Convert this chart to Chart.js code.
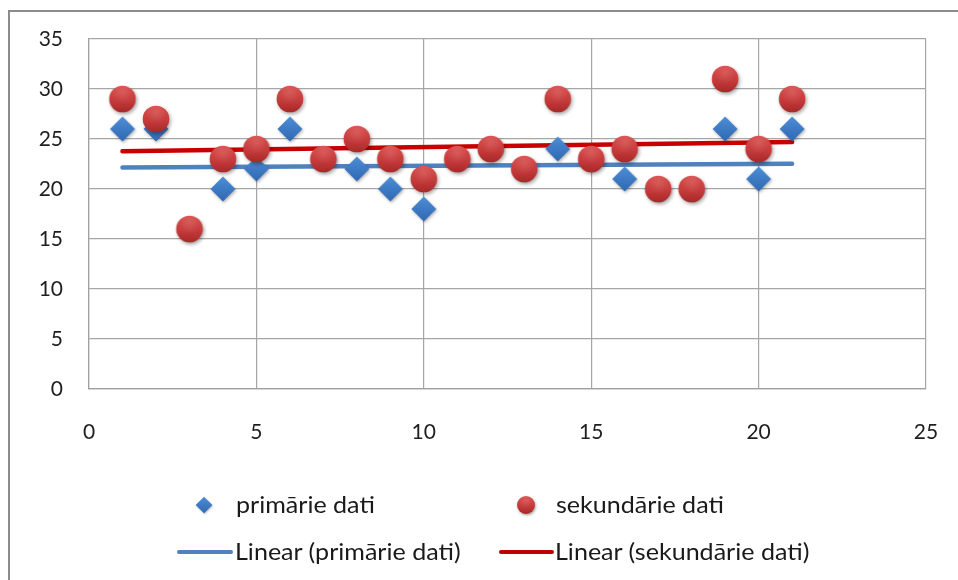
<!DOCTYPE html>
<html>
<head>
<meta charset="utf-8">
<script src="https://cdn.jsdelivr.net/npm/chart.js@4.4.1/dist/chart.umd.min.js"></script>
<style>
  html, body { margin: 0; padding: 0; background: #fff; }
  #wrap { position: relative; width: 958px; height: 580px; overflow: hidden; background: #fff; }
  #frame { position: absolute; left: 8px; top: 10px; width: 1100px; height: 800px;
           border: 2px solid #8c8c8c; box-sizing: border-box; }
  #chart { position: absolute; left: 0; top: 0; }
  .lg { position: absolute; font-family: Lato, "Open Sans", sans-serif; font-size: 23px;
        color: #1a1a1a; line-height: 28px; white-space: nowrap;
        transform: scaleX(1.09); transform-origin: 0 50%; }
  .lgline { position: absolute; height: 4px; border-radius: 2px; }
  .lgmark { position: absolute; }
</style>
</head>
<body>
<div id="wrap">
  <div id="frame"></div>
  <canvas id="chart" width="958" height="580"></canvas>

  <canvas class="lgmark" id="lgDiamond" width="24" height="24" style="left:192px;top:493px"></canvas>
  <div class="lg" style="left:236px;top:490px">primārie dati</div>
  <canvas class="lgmark" id="lgCircle" width="26" height="26" style="left:513px;top:492px"></canvas>
  <div class="lg" style="left:556px;top:490px">sekundārie dati</div>

  <div class="lgline" style="left:177px;top:550px;width:56px;background:#4f81bd"></div>
  <div class="lg" style="left:235px;top:537px">Linear (primārie dati)</div>
  <div class="lgline" style="left:499px;top:550px;width:55px;background:#c00000"></div>
  <div class="lg" style="left:555px;top:537px">Linear (sekundārie dati)</div>
</div>

<script>
// Day index and the two measured series
const days = [1, 2, 3, 4, 5, 6, 7, 8, 9, 10, 11, 12, 13, 14, 15, 16, 17, 18, 19, 20, 21];
const primaryValues = [26, 26, 16, 20, 22, 26, 23, 22, 20, 18, 23, 24, 22, 24, 23, 21, 20, 20, 26, 21, 26];
const secondaryValues = [29, 27, 16, 23, 24, 29, 23, 25, 23, 21, 23, 24, 22, 29, 23, 24, 20, 20, 31, 24, 29];

const primaryLabel = 'primārie dati';
const secondaryLabel = 'sekundārie dati';
const primaryTrendLabel = 'Linear (primārie dati)';
const secondaryTrendLabel = 'Linear (sekundārie dati)';

const xTicks = [0, 5, 10, 15, 20, 25];
const yTicks = [0, 5, 10, 15, 20, 25, 30, 35];

// Least-squares fit, returned as its two end points over the day range
function linearFit(xs, ys) {
  const n = xs.length;
  const mx = xs.reduce((a, b) => a + b, 0) / n;
  const my = ys.reduce((a, b) => a + b, 0) / n;
  let sxy = 0, sxx = 0;
  for (let i = 0; i < n; i++) { sxy += (xs[i] - mx) * (ys[i] - my); sxx += (xs[i] - mx) ** 2; }
  const slope = sxy / sxx;
  const icpt = my - slope * mx;
  const x0 = Math.min(...xs), x1 = Math.max(...xs);
  return [{ x: x0, y: icpt + slope * x0 }, { x: x1, y: icpt + slope * x1 }];
}

// Shaded marker sprites
function circleSprite(r, size) {
  const c = document.createElement('canvas');
  c.width = size; c.height = size;
  const g = c.getContext('2d');
  const m = size / 2;
  g.save();
  g.shadowColor = 'rgba(0,0,0,0.35)'; g.shadowBlur = r * 0.3; g.shadowOffsetX = r * 0.1; g.shadowOffsetY = r * 0.15;
  g.beginPath(); g.arc(m, m, r, 0, Math.PI * 2);
  const grad = g.createLinearGradient(0, m - r, 0, m + r);
  grad.addColorStop(0, '#d84f4d'); grad.addColorStop(0.55, '#c63b3b'); grad.addColorStop(1, '#a82828');
  g.fillStyle = grad; g.fill();
  g.restore();
  const hl = g.createRadialGradient(m, m - r * 0.45, 0, m, m - r * 0.45, r * 0.8);
  hl.addColorStop(0, 'rgba(255,255,255,0.12)'); hl.addColorStop(1, 'rgba(255,255,255,0)');
  g.beginPath(); g.arc(m, m, r, 0, Math.PI * 2); g.fillStyle = hl; g.fill();
  return c;
}
function diamondSprite(r, size) {
  const c = document.createElement('canvas');
  c.width = size; c.height = size;
  const g = c.getContext('2d');
  const m = size / 2;
  g.save();
  g.shadowColor = 'rgba(0,0,0,0.3)'; g.shadowBlur = r * 0.25; g.shadowOffsetX = r * 0.08; g.shadowOffsetY = r * 0.12;
  g.beginPath();
  g.moveTo(m, m - r); g.lineTo(m + r, m); g.lineTo(m, m + r); g.lineTo(m - r, m); g.closePath();
  const grad = g.createLinearGradient(0, m - r, 0, m + r);
  grad.addColorStop(0, '#4d8ed8'); grad.addColorStop(1, '#2f68b0');
  g.fillStyle = grad; g.fill();
  g.restore();
  return c;
}

// Legend markers
(function () {
  const d = diamondSprite(8.3, 24);
  document.getElementById('lgDiamond').getContext('2d').drawImage(d, 0, 0);
  const c = circleSprite(9, 26);
  document.getElementById('lgCircle').getContext('2d').drawImage(c, 0, 0);
})();

const primaryPts = days.map((d, i) => ({ x: d, y: primaryValues[i] }));
const secondaryPts = days.map((d, i) => ({ x: d, y: secondaryValues[i] }));

const tickFont = { family: 'Lato', size: 21 };

new Chart(document.getElementById('chart'), {
  type: 'scatter',
  data: {
    datasets: [
      { label: secondaryLabel, data: secondaryPts, pointStyle: circleSprite(13.3, 36), order: 0 },
      { label: primaryLabel, data: primaryPts, pointStyle: diamondSprite(12.5, 34), order: 1 },
      { label: secondaryTrendLabel, data: linearFit(days, secondaryValues), showLine: true,
        borderColor: '#c80000', borderWidth: 4.5, pointRadius: 0, borderCapStyle: 'round', order: 2 },
      { label: primaryTrendLabel, data: linearFit(days, primaryValues), showLine: true,
        borderColor: '#4f81bd', borderWidth: 4.5, pointRadius: 0, borderCapStyle: 'round', order: 3 }
    ]
  },
  options: {
    responsive: false,
    animation: false,
    events: [],
    layout: { padding: { left: 0, top: 39, right: 32, bottom: 0 } },
    plugins: { legend: { display: false }, tooltip: { enabled: false } },
    scales: {
      x: {
        type: 'linear', min: 0, max: 25,
        afterBuildTicks: s => { s.ticks = xTicks.map(v => ({ value: v })); },
        afterFit: s => { s.height = 191; s.paddingLeft = 13; s.paddingRight = 13; },
        grid: { color: '#a6a6a6', lineWidth: 1.2, drawTicks: false },
        border: { color: '#a0a0a0', width: 1.2 },
        ticks: { font: tickFont, color: '#1e1e1e', padding: 31, maxRotation: 0 }
      },
      y: {
        type: 'linear', min: 0, max: 35,
        afterBuildTicks: s => { s.ticks = yTicks.map(v => ({ value: v })); },
        afterFit: s => { s.width = 89; },
        grid: { color: '#a6a6a6', lineWidth: 1.2, drawTicks: false },
        border: { color: '#a0a0a0', width: 1.2 },
        ticks: { font: tickFont, color: '#1e1e1e', padding: 26 }
      }
    }
  }
});
</script>
</body>
</html>
